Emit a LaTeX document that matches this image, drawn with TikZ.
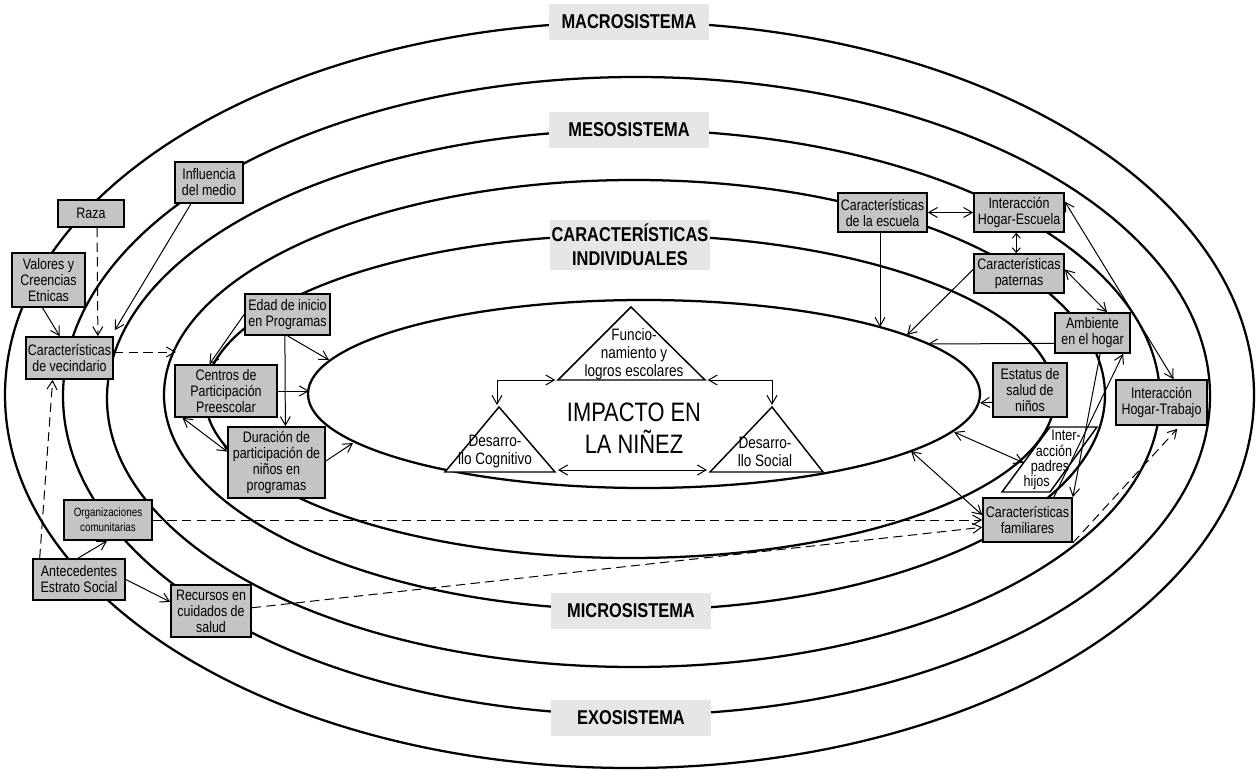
\documentclass[tikz,border=0pt]{standalone}
\usepackage{fontspec}
\setmainfont{Liberation Sans}
\newfontfamily\narrowfont{Liberation Sans}[FakeStretch=0.82]
\usetikzlibrary{arrows.meta,calc}

\tikzset{every picture/.style={line width=0.75pt}}
\tikzset{
	ring/.style={line width=1.7pt},
	box/.style={draw, line width=1.2pt, fill={rgb, 255:red, 196; green, 196; blue, 196}, align=center, inner sep=1pt, font=\narrowfont\fontsize{11.4}{12}\selectfont},
	syslabel/.style={fill={rgb, 255:red, 230; green, 230; blue, 230}, align=center, minimum width=120pt, minimum height=27pt, inner sep=1pt, font=\narrowfont\bfseries\fontsize{15}{18}\selectfont},
	tri/.style={draw, line width=1.1pt, fill=white},
	tritext/.style={align=center, inner sep=0pt, font=\narrowfont\fontsize{12.4}{13.5}\selectfont},
	conn/.style={line width=0.75pt, -{Straight Barb[length=6.5pt,width=7.5pt]}},
	bothconn/.style={line width=0.75pt, {Straight Barb[length=6.5pt,width=7.5pt]}-{Straight Barb[length=6.5pt,width=7.5pt]}},
	shortconn/.style={line width=0.75pt, {Straight Barb[length=3.5pt,width=6pt]}-{Straight Barb[length=3.5pt,width=6pt]}},
	dashconn/.style={conn, dash pattern=on 7pt off 4pt}
}

\begin{document}
\begin{tikzpicture}[x=0.75pt,y=0.75pt,yscale=-1,xscale=1]
	\useasboundingbox (0,0) rectangle (1258,770);

	%Shape: Ellipse [id:macro]
	\draw [ring] (1254,395) .. controls (1254,601) and (974.4,768) .. (629.5,768) .. controls (284.6,768) and (5,601) .. (5,395) .. controls (5,189) and (284.6,22) .. (629.5,22) .. controls (974.4,22) and (1254,189) .. (1254,395) -- cycle ;
	%Shape: Ellipse [id:exo]
	\draw [ring] (1210,396) .. controls (1210,572.2) and (953.2,715) .. (636.5,715) .. controls (319.8,715) and (63,572.2) .. (63,396) .. controls (63,219.8) and (319.8,77) .. (636.5,77) .. controls (953.2,77) and (1210,219.8) .. (1210,396) -- cycle ;
	%Shape: Ellipse [id:meso]
	\draw [ring] (1160,398.5) .. controls (1160,546.8) and (924.3,667) .. (633.5,667) .. controls (342.7,667) and (107,546.8) .. (107,398.5) .. controls (107,250.2) and (342.7,130) .. (633.5,130) .. controls (924.3,130) and (1160,250.2) .. (1160,398.5) -- cycle ;
	%Shape: Ellipse [id:micro]
	\draw [ring] (1105,395) .. controls (1105,513.7) and (894.4,610) .. (634.5,610) .. controls (374.6,610) and (164,513.7) .. (164,395) .. controls (164,276.3) and (374.6,180) .. (634.5,180) .. controls (894.4,180) and (1105,276.3) .. (1105,395) -- cycle ;
	%Shape: Ellipse [id:indiv]
	\draw [ring] (1055,396.5) .. controls (1055,485.7) and (864.7,558) .. (630,558) .. controls (395.3,558) and (205,485.7) .. (205,396.5) .. controls (205,307.3) and (395.3,235) .. (630,235) .. controls (864.7,235) and (1055,307.3) .. (1055,396.5) -- cycle ;
	%Shape: Ellipse [id:impact]
	\draw [ring] (980,394) .. controls (980,445.9) and (829.6,488) .. (644,488) .. controls (458.4,488) and (308,445.9) .. (308,394) .. controls (308,342.1) and (458.4,300) .. (644,300) .. controls (829.6,300) and (980,342.1) .. (980,394) -- cycle ;

	% points on the rings
	\coordinate (e4w) at (176,352);
	\coordinate (e6w) at (309,391);
	\coordinate (e6nw) at (329,360);
	\coordinate (e6sw) at (353,443);
	\coordinate (e6n) at (880,327);
	\coordinate (e6ne) at (907,335);
	\coordinate (e6e1) at (928,344);
	\coordinate (e6e) at (980,403);
	\coordinate (e6se) at (954,432);
	\coordinate (e6s) at (911,451);

	%Shape: Triangle
	\coordinate (funA) at (631,307); \coordinate (funL) at (558,380); \coordinate (funR) at (705,380);
	\coordinate (cogA) at (499,407); \coordinate (cogL) at (445,472); \coordinate (cogR) at (555,472);
	\coordinate (socA) at (772,407); \coordinate (socL) at (710,472); \coordinate (socR) at (823,472);
	\draw [tri] (funA) -- (funR) -- (funL) -- cycle ;
	\draw [tri] (cogA) -- (cogR) -- (cogL) -- cycle ;
	\draw [tri] (socA) -- (socR) -- (socL) -- cycle ;

	% Text Node
	\node [tritext] (fun) at (634,354) {Funcio-\\namiento y\\logros escolares};
	% Text Node
	\node [tritext] (cog) at (495,452) {Desarro-\\llo Cognitivo};
	% Text Node
	\node [tritext] (soc) at (765,452) {Desarro-\\llo Social};
	% Text Node
	\node [align=center, inner sep=0pt, font=\narrowfont\fontsize{20}{24}\selectfont] (impacto) at (634,428) {IMPACTO EN\\LA NIÑEZ};

	\draw [bothconn, shorten <=2pt] (funL) -| ($(cogA)+(-2,-2)$);
	\draw [bothconn, shorten <=2pt] (funR) -| ($(socA)+(0,-2)$);
	\draw [bothconn] ($(cogR)+(3,-2)$) -- ($(socL)+(-3,-2)$);

	%Shape: Parallelogram
	\coordinate (pp1) at (1050,427); \coordinate (pp2) at (1097,427);
	\coordinate (pp3) at (1050,492); \coordinate (pp4) at (1002,492);
	\draw [tri] (pp1) -- (pp2) -- (pp3) -- (pp4) -- cycle ;
	\coordinate (padresW) at ($(pp1)!0.55!(pp4)$);
	% Text Node
	\node [align=center, inner sep=0pt, font=\narrowfont\fontsize{11.5}{11.5}\selectfont] (padres) at (1050,460) {\hspace*{24pt}Inter-\\\hspace*{6pt}acción\\padres\hspace*{4pt}\\hijos\hspace*{20pt}};

	% system labels
	\node [syslabel] (macro) at (629,22) {MACROSISTEMA};
	\node [syslabel] (meso) at (629,130) {MESOSISTEMA};
	\node [syslabel, minimum height=37pt] (indiv) at (630,245) {CARACTERÍSTICAS\\INDIVIDUALES};
	\node [syslabel] (micro) at (631,611) {MICROSISTEMA};
	\node [syslabel] (exo) at (631,718) {EXOSISTEMA};

	% left boxes
	\node [box, minimum width=49.5pt, minimum height=20.3pt] (raza) at (91,213.5) {Raza};
	\node [box, minimum width=51pt, minimum height=30.8pt] (influencia) at (209,182.5) {Influencia\\del medio};
	\node [box, minimum width=54.8pt, minimum height=40.5pt] (valores) at (48.5,280) {Valores y\\Creencias\\Etnicas};
	\node [box, minimum width=65.3pt, minimum height=31.5pt] (vecindario) at (69.5,358) {Características\\de vecindario};
	\node [box, minimum width=63.8pt, minimum height=30.8pt] (edad) at (287.5,314.5) {Edad de inicio\\en Programas};
	\node [box, minimum width=76.5pt, minimum height=39pt] (centros) at (226,391) {Centros de\\Participación\\Preescolar};
	\node [box, minimum width=72.8pt, minimum height=53.3pt] (duracion) at (276.5,462.5) {Duración de\\participación de\\niños en\\programas};
	\node [box, minimum width=66pt, minimum height=30pt, font=\narrowfont\fontsize{9}{11}\selectfont] (organiz) at (108,520) {Organizaciones\\comunitarias};
	\node [box, minimum width=69pt, minimum height=30.8pt] (anteced) at (79,579.5) {Antecedentes\\Estrato Social};
	\node [box, minimum width=60pt, minimum height=39pt] (recursos) at (211,611) {Recursos en\\cuidados de\\salud};

	% right boxes
	\node [box, minimum width=66.8pt, minimum height=29.3pt] (escuela) at (882.5,212.5) {Características\\de la escuela};
	\node [box, minimum width=67.5pt, minimum height=29.3pt] (hogesc) at (1019,212.5) {Interacción\\Hogar-Escuela};
	\node [box, minimum width=67.5pt, minimum height=29.3pt] (paternas) at (1019,273.5) {Características\\paternas};
	\node [box, minimum width=56.3pt, minimum height=30pt] (ambiente) at (1092.5,333) {Ambiente\\en el hogar};
	\node [box, minimum width=55.5pt, minimum height=40.5pt] (estatus) at (1030,390) {Estatus de\\salud de\\niños};
	\node [box, minimum width=68.3pt, minimum height=33.8pt] (hogtrab) at (1161.5,402.5) {Interacción\\Hogar-Trabajo};
	\node [box, minimum width=66.8pt, minimum height=33pt] (familiares) at (1027.5,520) {Características\\familiares};

	%Straight Lines -- left side
	\draw [dashconn] ($(raza.south west)!0.59!(raza.south east)$) -- ($(vecindario.north west)!0.82!(vecindario.north east)$);
	\draw [conn] ($(valores.south west)!0.42!(valores.south east)$) -- ($(vecindario.north west)!0.39!(vecindario.north east)$);
	\draw [conn] ($(influencia.south west)!0.24!(influencia.south east)$) -- ($(vecindario.north east)+(1,-6)$);
	\draw [dashconn] (vecindario.east |- e4w) -- (e4w);
	\draw [dashconn] ($(anteced.north west)!0.08!(anteced.north east)$) -- ($(vecindario.south west)!0.31!(vecindario.south east)$);
	\draw [conn] ($(anteced.north west)!0.49!(anteced.north east)$) -- ($(organiz.south west)!0.49!(organiz.south east)$);
	\draw [conn] (anteced.east) -- ($(recursos.north west)!0.33!(recursos.south west)$);
	\draw [dashconn] (organiz.east) -- (familiares.west);
	\draw [dashconn] ($(recursos.north east)!0.44!(recursos.south east)$) -- ($(familiares.north west)!0.66!(familiares.south west)$);
	\draw [dashconn, shorten >=3pt] (familiares.south east) -- ($(hogtrab.south west)!0.7!(hogtrab.south east)$);

	%Straight Lines -- programas
	\draw [conn] (edad.west) -- ($(centros.north west)!0.34!(centros.north east)$);
	\draw [conn] (edad.south) -- (e6nw);
	\draw [conn] ($(edad.south west)!0.47!(edad.south east)$) -- ($(duracion.north west)!0.59!(duracion.north east)$);
	\draw [conn] (centros.east) -- (e6w);
	\draw [bothconn] ($(centros.south west)!0.08!(centros.south east)$) -- ($(duracion.north west)!0.35!(duracion.south west)$);
	\draw [conn] ($(duracion.north east)!0.48!(duracion.south east)$) -- (e6sw);

	%Straight Lines -- right side
	\draw [bothconn] (escuela.east) -- (hogesc.west);
	\draw [shortconn] ($(hogesc.south west)!0.47!(hogesc.south east)$) -- ($(paternas.north west)!0.47!(paternas.north east)$);
	\draw [conn] (escuela.south -| e6n) -- (e6n);
	\draw [conn] ($(paternas.north west)!0.4!(paternas.south west)$) -- (e6ne);
	\draw [conn] ($(ambiente.north west)!0.75!(ambiente.south west)$) -- (e6e1);
	\draw [bothconn] ($(paternas.north east)!0.4!(paternas.south east)$) -- ($(ambiente.north west)!0.69!(ambiente.north east)$);
	\draw [bothconn] ($(hogesc.north east)!0.23!(hogesc.south east)$) -- ($(hogtrab.north west)!0.63!(hogtrab.north east)$);
	\draw [conn] ($(estatus.north west)!0.72!(estatus.south west)$) -- (e6e);
	\draw [bothconn] (e6se) -- (padresW);
	\draw [bothconn] (e6s) -- ($(familiares.north west)!0.39!(familiares.south west)$);
	\draw [conn] ($(familiares.north west)!0.79!(familiares.north east)$) -- ($(ambiente.south west)!0.9!(ambiente.south east)$);
	\draw [conn] ($(ambiente.south west)!0.6!(ambiente.south east)$) -- (familiares.north east);

\end{tikzpicture}
\end{document}
